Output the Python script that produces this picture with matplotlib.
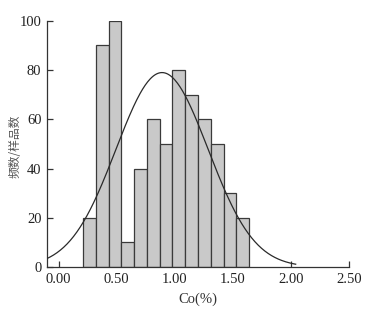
import matplotlib
matplotlib.use("Agg")
import matplotlib.pyplot as plt
import numpy as np

# histogram bins (Co %, left edges) and counts
BIN_LEFT = [0.21, 0.32, 0.43, 0.54, 0.65, 0.76, 0.87, 0.98, 1.09, 1.20, 1.31, 1.42, 1.53]
BIN_WIDTH = 0.11
COUNTS = [20, 90, 100, 10, 40, 60, 50, 80, 70, 60, 50, 30, 20]

# fitted normal curve
CURVE_MEAN = 0.89
CURVE_STD = 0.396
CURVE_PEAK = 79
CURVE_RANGE = (-0.1, 2.04)

XTICKS = [0.0, 0.5, 1.0, 1.5, 2.0, 2.5]
XTICK_LABELS = ["0.00", "0.50", "1.00", "1.50", "2.00", "2.50"]
YTICKS = [0, 20, 40, 60, 80, 100]

plt.rcParams["font.family"] = ["Liberation Serif", "DejaVu Serif"]

fig = plt.figure(figsize=(3.73, 3.21), dpi=100)
ax = fig.add_axes([0.126, 0.168, 0.810, 0.767])

ax.bar(BIN_LEFT, COUNTS, width=BIN_WIDTH, align="edge",
       color="#c9c9c9", edgecolor="#3a3a3a", linewidth=0.9, zorder=2)

xs = np.linspace(CURVE_RANGE[0], CURVE_RANGE[1], 300)
ys = CURVE_PEAK * np.exp(-0.5 * ((xs - CURVE_MEAN) / CURVE_STD) ** 2)
ax.plot(xs, ys, color="#2a2a2a", linewidth=0.9, zorder=3)

ax.set_xlim(-0.1, 2.5)
ax.set_ylim(0, 100)
ax.set_xticks(XTICKS)
ax.set_xticklabels(XTICK_LABELS)
ax.set_yticks(YTICKS)

for side in ("top", "right"):
    ax.spines[side].set_visible(False)
for side in ("left", "bottom"):
    ax.spines[side].set_color("#333333")
    ax.spines[side].set_linewidth(0.9)

ax.tick_params(direction="in", length=4, width=0.9, colors="#333333",
               labelsize=10.5, labelcolor="#222222")
ax.tick_params(axis="x", pad=4)
ax.tick_params(axis="y", pad=4)

ax.set_xlabel("Co(%)", fontsize=10.5, color="#333333", labelpad=5)
fig.text(15 / 373, 1 - 146 / 321, "频数/样品数", rotation=90,
         ha="center", va="center", fontsize=8.5, color="#555555",
         family=["Noto Sans CJK SC", "DejaVu Sans"])

fig.savefig("out.png", dpi=100, facecolor="white")
